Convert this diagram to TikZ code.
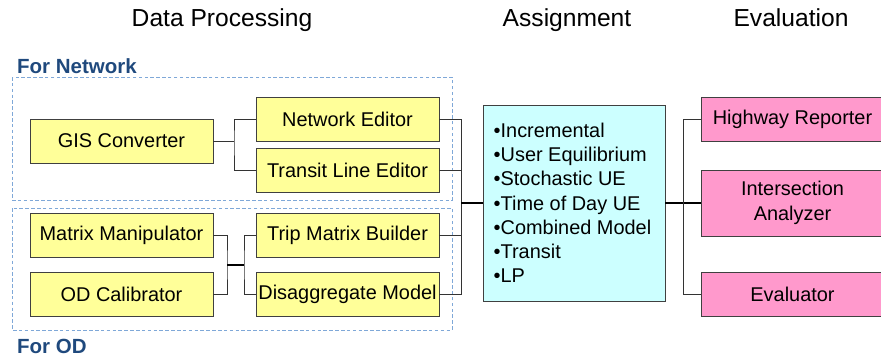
\documentclass[tikz,border=0pt]{standalone}
\usepackage{fontspec}
\setmainfont{Liberation Sans}
\usetikzlibrary{positioning,calc}
\definecolor{cproc}{HTML}{FFFF99}
\definecolor{cassg}{HTML}{CCFFFF}
\definecolor{ceval}{HTML}{FF99CC}
\definecolor{cgrp}{HTML}{7FA8D8}
\definecolor{cgrptxt}{HTML}{1F497D}

\begin{document}
\begin{tikzpicture}[x=0.03cm, y=-0.03cm, font=\fontsize{17}{20.7}\selectfont,
  box/.style={draw=black!75, line width=0.8pt, minimum width=5.49cm, minimum height=1.32cm, inner sep=0pt, align=center},
  procbox/.style={box, fill=cproc},
  evalbox/.style={box, fill=ceval},
  grp/.style={draw=cgrp, line width=0.7pt, dash pattern=on 3pt off 2pt},
  grplabel/.style={anchor=base west, text=cgrptxt, font=\fontsize{17.5}{21}\selectfont\bfseries},
  head/.style={anchor=base, font=\fontsize{21}{25}\selectfont},
  link/.style={draw=black!80, line width=0.7pt},
  trunk/.style={draw=black, line width=1.4pt}]
\useasboundingbox (0,0) rectangle (881,357);
% column heads
\node[head] (hproc) at (222,26) {Data Processing};
\node[head] (hassg) at (567,26) {Assignment};
\node[head] (heval) at (791,26) {Evaluation};
% groups
\draw[grp] (12,77) rectangle (452,200);
\draw[grp] (12,208) rectangle (452,330);
\node[grplabel] (lnet) at (13,73) {For Network};
\node[grplabel] (lod) at (13,353) {For OD};
% data processing
\node[procbox] (gis) at (121.5,141) {GIS Converter};
\node[procbox] (ned) at (347.5,119) {Network Editor};
\node[procbox] (tle) at (347.5,170) {Transit Line Editor};
\node[procbox] (mm) at (121.5,235.5) {Matrix Manipulator};
\node[procbox] (odc) at (121.5,294.5) {OD Calibrator};
\node[procbox] (tmb) at (347.5,235.5) {Trip Matrix Builder};
\node[procbox] (dm) at (347.5,294.5) {Disaggregate Model};
% assignment
\node[box, fill=cassg, minimum width=5.46cm, minimum height=5.88cm, align=left] (asg) at (574,203)
  {\parbox{5.1cm}{\raggedright\leftskip=4pt\fontsize{17}{20.7}\selectfont •Incremental\\•User Equilibrium\\•Stochastic UE\\•Time of Day UE\\•Combined Model\\•Transit\\•LP}};
% evaluation
\node[evalbox] (hr) at (792.5,119) {Highway Reporter};
\node[evalbox, minimum height=1.98cm, font=\fontsize{17}{21.3}\selectfont] (ia) at (792.5,203) {Intersection\\Analyzer};
\node[evalbox] (ev) at (792.5,294.5) {Evaluator};
% connectors
\coordinate (gsplit) at (234,141);
\coordinate (mjoin) at (227,265);
\coordinate (msplit) at (244,265);
\coordinate (lbus) at (461,203);
\coordinate (rbus) at (683,203);
\draw[link] (gis.east) -- (gsplit);
\draw[link] (ned.west) -| (gsplit) |- (tle.west);
\draw[link] (mm.east) -| (mjoin) |- (odc.east);
\draw[trunk] (mjoin) -- (msplit);
\draw[link] (tmb.west) -| (msplit) |- (dm.west);
\foreach \n in {ned,tle,tmb,dm}{\draw[link] (\n.east) -| (lbus);}
\draw[trunk] (lbus) -- (asg.west);
\draw[trunk] (asg.east) -- (ia.west);
\foreach \n in {hr,ev}{\draw[link] (\n.west) -| (rbus);}
\end{tikzpicture}
\end{document}
